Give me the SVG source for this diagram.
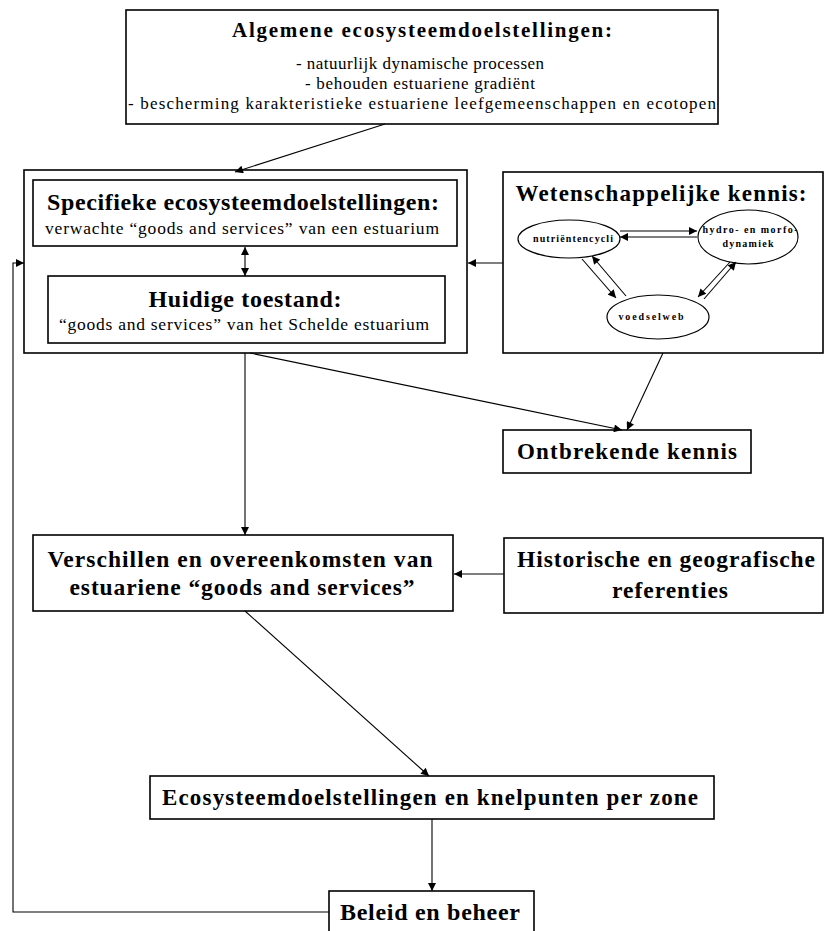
<svg xmlns="http://www.w3.org/2000/svg" width="824" height="931" viewBox="0 0 824 931">
<defs>
<style>
.box{fill:#fff;stroke:#000;stroke-width:1.6}
.ell{fill:#fff;stroke:#000;stroke-width:1.2}
.ln{fill:none;stroke:#000;stroke-width:1.1}
.t{font-family:"Liberation Serif","Times New Roman",serif;fill:#000}
.b{font-weight:bold}
.s{font-weight:bold;font-size:10px}
</style>
<marker id="ah" viewBox="0 0 10 10" refX="10" refY="5" markerWidth="9" markerHeight="8" markerUnits="userSpaceOnUse" orient="auto">
<path d="M0,0 L10,5 L0,10 z" fill="#000"/>
</marker>
<marker id="ahs" viewBox="0 0 10 10" refX="10" refY="5" markerWidth="9" markerHeight="8" markerUnits="userSpaceOnUse" orient="auto">
<path d="M0,0 L10,5 L0,10 z" fill="#000"/>
</marker>
<marker id="ahst" viewBox="0 0 10 10" refX="0" refY="5" markerWidth="9" markerHeight="8" markerUnits="userSpaceOnUse" orient="auto">
<path d="M10,0 L0,5 L10,10 z" fill="#000"/>
</marker>
</defs>
<rect width="824" height="931" fill="#fff"/>

<g id="algemene">
<rect class="box" x="126" y="10" width="592" height="114"/>
<text class="t b" x="422" y="37" font-size="21" text-anchor="middle" textLength="380">Algemene ecosysteemdoelstellingen:</text>
<text class="t" x="420" y="69" font-size="17" text-anchor="middle" textLength="248">- natuurlijk dynamische processen</text>
<text class="t" x="420" y="89" font-size="17" text-anchor="middle" textLength="230">- behouden estuariene gradiënt</text>
<text class="t" x="422" y="109" font-size="17" text-anchor="middle" textLength="588">- bescherming karakteristieke estuariene leefgemeenschappen en ecotopen</text>
</g>

<g id="specifiek-groep">
<rect class="box" x="24" y="170" width="443" height="183"/>
</g>
<g id="specifieke">
<rect class="box" x="33" y="180" width="424" height="66"/>
<text class="t b" x="243" y="210" font-size="24" text-anchor="middle" textLength="392">Specifieke ecosysteemdoelstellingen:</text>
<text class="t" x="242" y="234" font-size="17.5" text-anchor="middle" textLength="394">verwachte “goods and services” van een estuarium</text>
</g>
<g id="huidige">
<rect class="box" x="48" y="276" width="397" height="67"/>
<text class="t b" x="245" y="307" font-size="24" text-anchor="middle" textLength="193">Huidige toestand:</text>
<text class="t" x="244" y="330" font-size="17.5" text-anchor="middle" textLength="370">“goods and services” van het Schelde estuarium</text>
</g>

<g id="wetenschappelijk">
<rect class="box" x="503" y="172" width="320" height="181"/>
<text class="t b" x="661" y="201" font-size="23" text-anchor="middle" textLength="291">Wetenschappelijke kennis:</text>
</g>
<g id="nutrienten">
<ellipse class="ell" cx="569" cy="239" rx="51" ry="19"/>
<text class="t s" x="573" y="242" text-anchor="middle" textLength="80">nutriëntencycli</text>
</g>
<g id="hydro">
<ellipse class="ell" cx="748" cy="237" rx="50" ry="27"/>
<text class="t s" x="750" y="233" text-anchor="middle" textLength="95">hydro- en morfo-</text>
<text class="t s" x="748" y="247" text-anchor="middle" textLength="51">dynamiek</text>
</g>
<g id="voedselweb">
<ellipse class="ell" cx="658" cy="317" rx="51" ry="22"/>
<text class="t s" x="651" y="320" text-anchor="middle" textLength="65">voedselweb</text>
</g>

<g id="ontbrekende">
<rect class="box" x="503" y="430" width="248" height="43"/>
<text class="t b" x="627" y="459" font-size="23" text-anchor="middle" textLength="220">Ontbrekende kennis</text>
</g>

<g id="verschillen">
<rect class="box" x="33" y="535" width="420" height="76"/>
<text class="t b" x="240" y="567" font-size="23.5" text-anchor="middle" textLength="385">Verschillen en overeenkomsten van</text>
<text class="t b" x="242" y="595" font-size="23.5" text-anchor="middle" textLength="345">estuariene “goods and services”</text>
</g>

<g id="historische">
<rect class="box" x="504" y="538" width="319" height="75"/>
<text class="t b" x="666" y="567" font-size="23.5" text-anchor="middle" textLength="298">Historische en geografische</text>
<text class="t b" x="670" y="598" font-size="23.5" text-anchor="middle" textLength="116">referenties</text>
</g>

<g id="ecosysteem">
<rect class="box" x="150" y="776" width="564" height="43"/>
<text class="t b" x="430" y="805" font-size="23" text-anchor="middle" textLength="536">Ecosysteemdoelstellingen en knelpunten per zone</text>
</g>

<g id="beleid">
<rect class="box" x="329" y="891" width="205" height="50"/>
<text class="t b" x="430" y="920" font-size="24" text-anchor="middle" textLength="180">Beleid en beheer</text>
</g>

<g id="connectors">
<line class="ln" x1="385" y1="124" x2="235" y2="172" marker-end="url(#ah)"/>
<line class="ln" x1="245" y1="247" x2="245" y2="276" marker-start="url(#ahst)" marker-end="url(#ah)"/>
<line class="ln" x1="503" y1="263" x2="468" y2="263" marker-end="url(#ah)"/>
<line class="ln" x1="245" y1="353" x2="245" y2="535" marker-end="url(#ah)"/>
<line class="ln" x1="250" y1="353" x2="622" y2="430" marker-end="url(#ah)"/>
<line class="ln" x1="663" y1="353" x2="627" y2="430" marker-end="url(#ah)"/>
<line class="ln" x1="504" y1="574" x2="454" y2="574" marker-end="url(#ah)"/>
<line class="ln" x1="245" y1="611" x2="429" y2="776" marker-end="url(#ah)"/>
<line class="ln" x1="432" y1="819" x2="432" y2="891" marker-end="url(#ah)"/>
<polyline class="ln" points="329,912 13,912 13,263 24,263" marker-end="url(#ah)"/>
<line class="ln" x1="620" y1="231" x2="697" y2="231" marker-end="url(#ahs)"/>
<line class="ln" x1="697" y1="237" x2="620" y2="237" marker-end="url(#ahs)"/>
<line class="ln" x1="582" y1="259" x2="616" y2="298" marker-end="url(#ahs)"/>
<line class="ln" x1="626" y1="296" x2="592" y2="256" marker-end="url(#ahs)"/>
<line class="ln" x1="730" y1="262" x2="698" y2="297" marker-end="url(#ahs)"/>
<line class="ln" x1="704" y1="299" x2="736" y2="262" marker-end="url(#ahs)"/>
</g>
</svg>
